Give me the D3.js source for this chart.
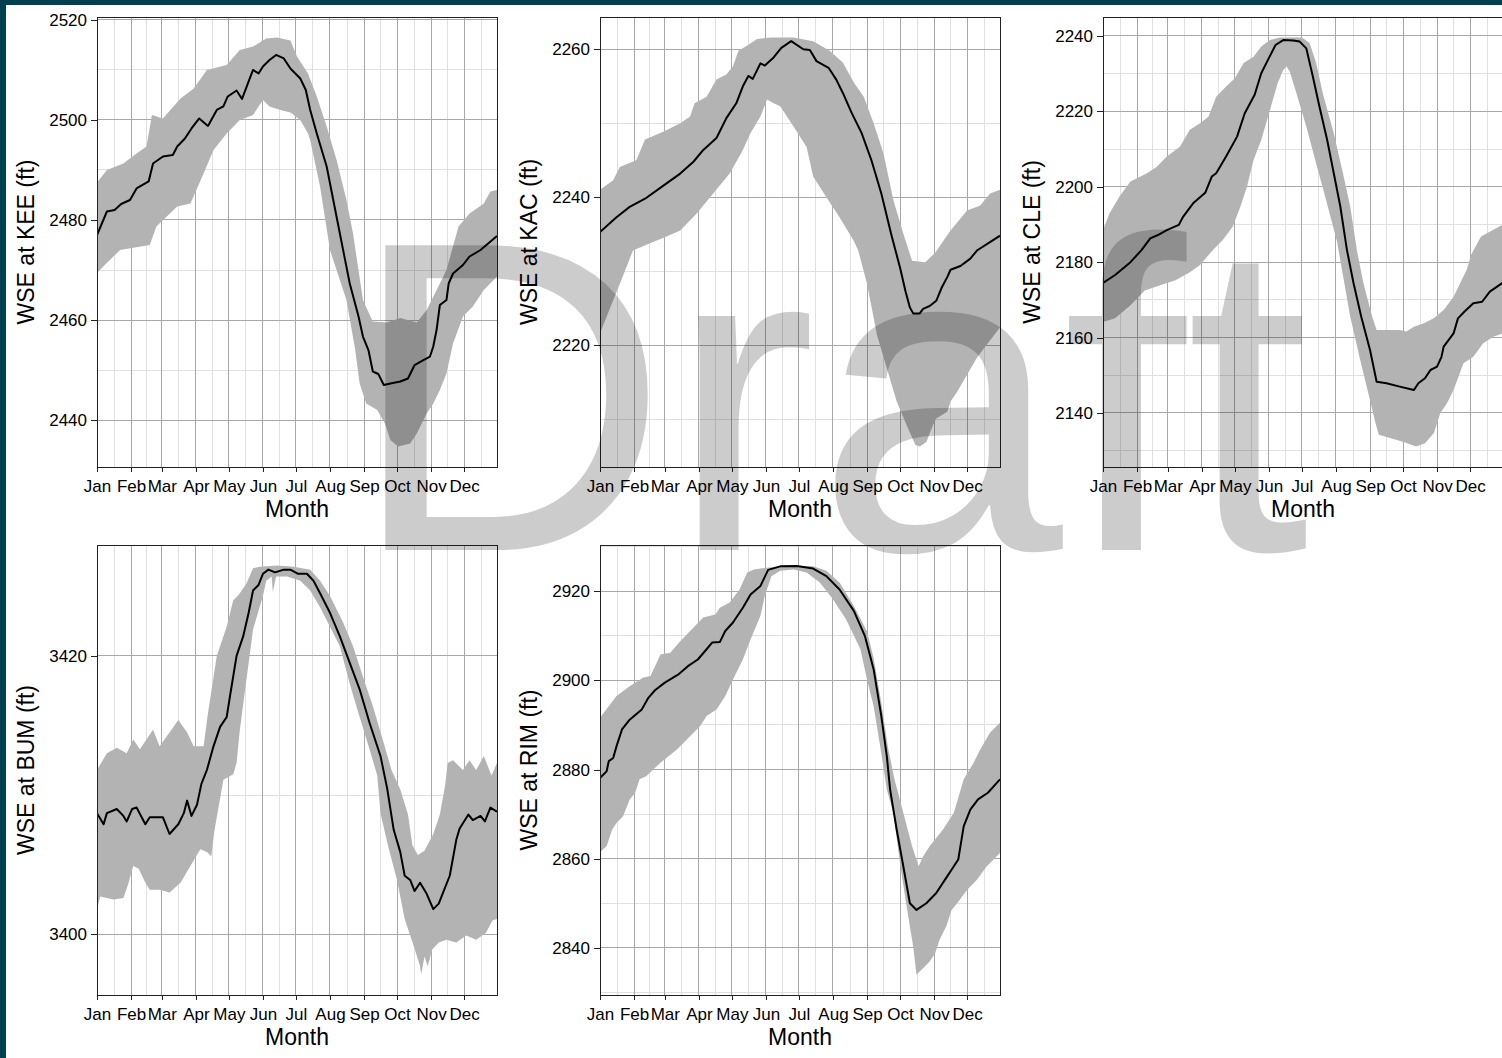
<!DOCTYPE html>
<html><head><meta charset="utf-8">
<script src="https://cdn.jsdelivr.net/npm/d3@7"></script>
<style>
html,body{margin:0;padding:0;background:#fff;overflow:hidden}
svg{display:block}
text{font-family:"Liberation Sans",Arial,sans-serif}
</style></head><body>
<svg id="chart" width="1502" height="1058"></svg>
<script>
// ---------------- data (day of year, feet) ----------------
const monthLabels = ["Jan","Feb","Mar","Apr","May","Jun","Jul","Aug","Sep","Oct","Nov","Dec"];
const stationNames = ["KEE","KAC","CLE","BUM","RIM"];

const keeTicks = [2440,2460,2480,2500,2520];
const keeLine = [[0,2477],[9,2481.7],[16,2482],[22,2483.2],[30,2484],[36,2486.3],[47,2487.7],[51,2491.3],[60,2492.7],[69,2493],[73,2494.7],[80,2496.3],[86,2498.3],[93,2500.3],[101,2498.8],[109,2502],[115,2502.7],[119,2504.7],[127,2505.9],[132,2504.2],[138,2507.7],[142,2510],[147,2509.3],[151,2510.7],[157,2512],[163,2513],[170,2512.3],[176,2510.3],[185,2508.3],[190,2506],[194,2502],[200,2497.3],[209,2490.7],[215,2484],[221,2477.3],[230,2467.3],[238,2460.7],[242,2456.7],[247,2454],[251,2449.7],[256,2449.2],[261,2447],[267,2447.3],[276,2447.7],[283,2448.3],[289,2451],[297,2452],[303,2452.7],[306,2454.7],[309,2458],[312,2463],[318,2464],[320,2467.3],[324,2469.3],[333,2471],[339,2472.7],[349,2474],[364,2476.8]];
const keeUpper = [[0,2487.5],[9,2490],[24,2491.3],[36,2493.3],[45,2494.7],[50,2501],[60,2500.3],[76,2504.3],[88,2506.3],[100,2510],[118,2511],[130,2514],[142,2514.7],[154,2516.3],[164,2516.5],[176,2515.9],[182,2512.7],[192,2509.3],[200,2504.7],[209,2498.7],[218,2492],[227,2484],[233,2477.3],[242,2464],[251,2459.7],[264,2459.5],[276,2460.4],[291,2459.5],[300,2462],[312,2467.3],[318,2470],[329,2478.7],[339,2481.3],[352,2483.3],[358,2485.7],[364,2486]];
const keeLower = [[0,2469.4],[7,2471],[21,2474],[48,2475],[54,2478.7],[73,2482.7],[85,2483.3],[97,2489.3],[106,2494],[118,2497.3],[130,2500],[142,2501],[151,2504],[157,2502.7],[167,2502],[176,2501.5],[185,2500],[192,2497.3],[194,2496],[203,2486.7],[212,2474],[227,2464],[235,2454],[239,2447.3],[245,2443.3],[255,2442],[262,2439.3],[267,2436],[274,2434.7],[285,2435.3],[291,2437.3],[300,2441.3],[306,2443.3],[312,2446],[318,2449.3],[324,2455.3],[333,2460.7],[342,2462.7],[352,2466],[364,2468.7]];

const kacTicks = [2220,2240,2260];
const kacLine = [[0,2235.3],[15,2237.3],[27,2238.7],[41,2239.8],[58,2241.6],[73,2243.2],[85,2244.8],[94,2246.4],[106,2248],[115,2250.7],[124,2252.7],[130,2255],[135,2256.4],[139,2256],[146,2258.1],[150,2257.8],[158,2258.9],[165,2260.2],[174,2261.1],[185,2260],[191,2259.9],[197,2258.4],[208,2257.5],[215,2255.9],[221,2254.1],[229,2251.4],[238,2248.7],[247,2245],[256,2240.5],[265,2235],[273,2230.5],[278,2227.3],[282,2225.1],[285,2224.3],[291,2224.3],[294,2224.9],[300,2225.3],[306,2226],[311,2227.8],[316,2229.2],[319,2230.2],[328,2230.7],[337,2231.7],[343,2232.8],[364,2234.8]];
const kacUpper = [[0,2241],[12,2242.3],[18,2244.1],[33,2245],[41,2247.8],[58,2248.9],[73,2250],[82,2250.9],[86,2252.7],[97,2253.6],[106,2255.9],[115,2256.6],[121,2257.7],[126,2259.8],[134,2260.5],[143,2261.4],[155,2261.6],[176,2261.6],[194,2261.1],[209,2259.8],[221,2258.2],[231,2255.5],[240,2253.6],[249,2250],[258,2245.9],[267,2239.6],[276,2235.1],[284,2231.4],[296,2231.2],[305,2232.5],[319,2235.5],[334,2238.2],[346,2238.9],[355,2240.5],[364,2241]];
const kacLower = [[0,2221.6],[11,2225.7],[20,2229],[30,2232.8],[46,2233.8],[59,2234.6],[73,2235.5],[88,2237.8],[103,2240.5],[118,2243.2],[130,2246.4],[137,2248.7],[146,2250.9],[152,2253.2],[158,2252.7],[164,2252.3],[176,2249.6],[188,2246.8],[194,2242.8],[206,2240],[218,2237.3],[231,2234.1],[235,2232.8],[243,2228.3],[252,2221.4],[261,2216.9],[270,2212.4],[279,2209.2],[287,2206.5],[291,2206.3],[297,2206.9],[303,2209.2],[306,2210.1],[316,2211],[319,2212.4],[325,2213.7],[334,2216],[343,2218.3],[352,2220.1],[364,2222.4]];

const cleTicks = [2140,2160,2180,2200,2220,2240];
const cleLine = [[0,2174.5],[11,2176.6],[25,2180],[35,2183.2],[43,2186.3],[50,2187.2],[58,2188.5],[69,2189.9],[73,2192.1],[82,2195.6],[93,2198.4],[99,2202.7],[103,2203.6],[112,2208],[122,2213.3],[129,2219.5],[138,2224.4],[144,2230.1],[150,2233.6],[157,2237.6],[164,2238.9],[173,2238.8],[179,2238.5],[185,2236.7],[191,2229.2],[197,2221.2],[204,2212.4],[210,2203.6],[216,2194.7],[222,2183.2],[228,2174.4],[235,2165.5],[243,2156.7],[249,2148.3],[258,2147.9],[270,2147],[283,2146.1],[287,2147.9],[293,2149.2],[298,2151.4],[304,2152.3],[308,2154.9],[310,2157.6],[319,2161.1],[323,2165.1],[329,2166.9],[337,2169.1],[345,2169.5],[352,2172.2],[364,2174.6]];
const cleUpper = [[0,2188.5],[6,2193],[15,2197.4],[25,2201.4],[40,2203.6],[49,2205.3],[58,2208],[70,2210.6],[79,2215.1],[88,2216.8],[96,2218.6],[103,2223.9],[112,2226.6],[120,2228.8],[128,2232.8],[137,2234.5],[144,2237.2],[152,2238.9],[161,2239.6],[181,2239.6],[188,2238.1],[194,2232.8],[200,2224.8],[210,2214.2],[219,2202.7],[225,2194.7],[231,2183.2],[237,2174.4],[245,2165.5],[249,2162],[270,2162],[276,2161.6],[283,2162.9],[292,2163.8],[301,2165.1],[310,2167.3],[319,2170.8],[325,2174.4],[331,2178],[335,2182],[344,2186.8],[364,2190]];
const cleLower = [[0,2164.1],[11,2165.1],[25,2168.6],[38,2172.5],[52,2173.9],[66,2175.2],[79,2177.3],[88,2179.2],[100,2183.2],[109,2185.9],[118,2189.4],[125,2194.7],[131,2200],[137,2207.1],[144,2212.4],[152,2220.4],[159,2227.5],[164,2231],[167,2231.9],[170,2230.5],[176,2224.8],[185,2216],[194,2206.2],[203,2196.5],[213,2185.4],[225,2165.5],[234,2154.1],[243,2143.4],[248,2137.3],[251,2134.2],[262,2133.3],[273,2132.4],[285,2131.1],[293,2132],[301,2134.6],[307,2140],[313,2142.6],[319,2146.1],[328,2153.2],[337,2154.9],[346,2158.5],[355,2160.2],[364,2161.1]];

const bumTicks = [3400,3420];
const bumLine = [[0,3408.7],[6,3407.9],[9,3408.7],[18,3409],[24,3408.5],[27,3408.1],[32,3409],[36,3409.1],[44,3407.9],[48,3408.4],[60,3408.4],[66,3407.2],[74,3407.9],[79,3408.7],[82,3409.6],[86,3408.5],[91,3409.3],[95,3410.8],[100,3411.8],[106,3413.5],[112,3414.9],[118,3415.6],[121,3417.1],[127,3420],[133,3421.4],[138,3423.1],[142,3424.7],[147,3425.1],[151,3425.9],[156,3426.2],[162,3426],[170,3426.2],[176,3426.2],[183,3425.9],[191,3425.9],[197,3425.4],[203,3424.5],[212,3423.1],[221,3421.4],[230,3419.5],[239,3417.6],[248,3415.2],[258,3412.8],[264,3410.5],[270,3407.5],[276,3405.9],[280,3404.2],[285,3403.9],[289,3403.1],[294,3403.7],[300,3402.9],[306,3401.8],[311,3402.2],[315,3403],[321,3404.2],[327,3406.8],[330,3407.6],[338,3408.6],[342,3408.2],[349,3408.5],[353,3408.1],[358,3409.1],[364,3408.8]];
const bumUpper = [[0,3411.8],[9,3413],[18,3413.4],[27,3413],[33,3414],[39,3413.3],[51,3414.7],[57,3413.5],[66,3414.5],[74,3415.4],[82,3414.5],[88,3413.5],[97,3413.5],[101,3415.9],[109,3420],[118,3422.1],[124,3424],[129,3424.4],[136,3425.2],[142,3426.3],[148,3426.4],[164,3426.5],[179,3426.4],[194,3426.2],[203,3425.4],[212,3424.3],[224,3422.4],[233,3420.7],[242,3418.5],[251,3416.4],[260,3414],[268,3411.8],[276,3410.4],[283,3408.6],[287,3406.4],[292,3405.7],[298,3406],[306,3407.2],[312,3408.6],[317,3410.8],[319,3412.3],[324,3412.5],[333,3411.8],[339,3412.5],[345,3411.8],[352,3412.8],[359,3411.4],[364,3412.3]];
const bumLower = [[0,3401.8],[3,3402.7],[9,3402.6],[15,3402.5],[24,3402.6],[28,3403.5],[33,3404.9],[38,3404.7],[44,3403.7],[48,3403.2],[57,3403.2],[66,3403],[76,3403.7],[85,3404.9],[94,3406.1],[100,3405.9],[104,3405.6],[107,3407.5],[115,3411.1],[124,3411.5],[127,3412.3],[130,3414.7],[136,3418.3],[142,3421.9],[151,3424.3],[154,3425.4],[159,3425.7],[160,3424.6],[163,3425.7],[173,3425.7],[185,3425.4],[194,3424.7],[203,3423.5],[212,3422.1],[221,3420.7],[230,3418],[239,3415.6],[248,3413.3],[255,3411.4],[258,3408.7],[265,3406.3],[273,3403.9],[280,3401.1],[288,3399.2],[294,3397.7],[295,3397.1],[298,3398.4],[301,3397.7],[305,3398.9],[311,3399.4],[318,3399.6],[327,3399.4],[336,3399.9],[345,3399.6],[354,3400.1],[360,3401],[364,3401.1]];

const rimTicks = [2840,2860,2880,2900,2920];
const rimLine = [[0,2878.1],[6,2879.6],[8,2881.9],[12,2882.6],[15,2885.2],[20,2889],[27,2891.2],[38,2893.5],[44,2896.1],[50,2897.8],[59,2899.5],[71,2901.3],[80,2903.2],[89,2904.7],[97,2907],[102,2908.5],[109,2908.6],[114,2911.1],[121,2913],[130,2916.3],[137,2919.3],[146,2921.2],[153,2924.8],[164,2925.6],[179,2925.7],[194,2925.1],[206,2923.4],[218,2920.4],[231,2915.6],[241,2910],[249,2902.5],[256,2892],[261,2883],[264,2875.5],[270,2866.5],[276,2858.3],[282,2850],[288,2848.5],[297,2850],[306,2852.3],[314,2855.3],[322,2858.3],[326,2859.8],[331,2867.3],[337,2871],[344,2873.3],[353,2874.8],[364,2877.8]];
const rimUpper = [[0,2891.6],[15,2896.5],[27,2898.7],[39,2900.6],[46,2901],[55,2905.8],[64,2906.2],[73,2908.8],[82,2911.1],[94,2914.1],[105,2914.8],[109,2916.3],[118,2917.5],[127,2920.4],[134,2924.2],[140,2924.9],[152,2925.3],[170,2925.8],[194,2925.6],[206,2924.6],[218,2922],[231,2916.7],[243,2911],[249,2905],[256,2895],[262,2885],[268,2877.8],[276,2870.3],[284,2862.8],[288,2859.8],[290,2858.3],[294,2860.5],[300,2862.8],[312,2866.5],[322,2870.3],[331,2877.8],[340,2881.5],[346,2884.5],[355,2888.3],[364,2890.5]];
const rimLower = [[0,2861.5],[6,2862.8],[11,2866.5],[15,2868],[21,2869.5],[27,2873.3],[32,2874.8],[36,2877.8],[42,2878.5],[55,2881.5],[70,2884.5],[82,2887.5],[91,2889.7],[97,2892],[106,2893.5],[114,2896.5],[121,2900.2],[130,2904.7],[137,2909.2],[146,2914.5],[150,2919],[156,2923.4],[164,2924.6],[176,2924.9],[188,2924.2],[200,2922],[212,2918.2],[224,2913.7],[237,2907],[243,2900.2],[249,2894.2],[255,2885.2],[261,2875.5],[267,2870.3],[273,2859],[279,2849.3],[285,2840.3],[288,2834],[294,2835.4],[300,2836.9],[305,2838.8],[309,2841.8],[315,2844.8],[320,2848.5],[325,2850],[334,2853],[343,2855.3],[352,2858.3],[364,2861.3]];

// ---------------- layout ----------------
const svg = d3.select("#chart");
const PW = 400, PH = 450;
const colX = [97, 600, 1103], rowY = [17, 545];
const panels = [
  {name: stationNames[0], line: keeLine, upper: keeUpper, lower: keeLower, ticks: keeTicks, c: 0, r: 0},
  {name: stationNames[1], line: kacLine, upper: kacUpper, lower: kacLower, ticks: kacTicks, c: 1, r: 0},
  {name: stationNames[2], line: cleLine, upper: cleUpper, lower: cleLower, ticks: cleTicks, c: 2, r: 0},
  {name: stationNames[3], line: bumLine, upper: bumUpper, lower: bumLower, ticks: bumTicks, c: 0, r: 1},
  {name: stationNames[4], line: rimLine, upper: rimUpper, lower: rimLower, ticks: rimTicks, c: 1, r: 1}
];

const t0 = Date.UTC(2021, 0, 1);
const dayDate = d => new Date(t0 + d * 864e5);
const x = d3.scaleUtc().domain([dayDate(0), dayDate(364)]).range([0, PW]);
const monthTicks = d3.utcMonth.range(dayDate(0), dayDate(365));
const monthBounds = monthTicks.concat([dayDate(365)]);
const minorX = d3.range(12).map(i => new Date((+monthBounds[i] + +monthBounds[i + 1]) / 2));

const MAJ = "#a8a8a8", MIN = "#e0e0e0";

panels.forEach((p, i) => {
  const x0 = colX[p.c], y0 = rowY[p.r];
  const vals = p.line.concat(p.upper, p.lower).map(d => d[1]);
  const lo = d3.min(vals), hi = d3.max(vals), pad = (hi - lo) * 0.05;
  const y = d3.scaleLinear().domain([lo - pad, hi + pad]).range([PH, 0]);
  const step = p.ticks[1] - p.ticks[0];
  const minorY = [p.ticks[0] - step / 2].concat(p.ticks.map(t => t + step / 2))
    .filter(v => v > lo - pad && v < hi + pad);

  const g = svg.append("g").attr("transform", `translate(${x0},${y0})`);
  const clipId = "clip" + i;
  g.append("clipPath").attr("id", clipId).append("rect").attr("width", PW).attr("height", PH);
  g.append("rect").attr("width", PW).attr("height", PH).attr("fill", "#fff");

  const grid = g.append("g").attr("shape-rendering", "crispEdges").attr("clip-path", `url(#${clipId})`);
  grid.selectAll(".mnx").data(minorX).join("line")
    .attr("x1", d => x(d)).attr("x2", d => x(d)).attr("y1", 0).attr("y2", PH)
    .attr("stroke", MIN).attr("stroke-width", 1);
  grid.selectAll(".mny").data(minorY).join("line")
    .attr("x1", 0).attr("x2", PW).attr("y1", d => y(d)).attr("y2", d => y(d))
    .attr("stroke", MIN).attr("stroke-width", 1);
  grid.selectAll(".mjx").data(monthTicks).join("line")
    .attr("x1", d => x(d)).attr("x2", d => x(d)).attr("y1", 0).attr("y2", PH)
    .attr("stroke", MAJ).attr("stroke-width", 1);
  grid.selectAll(".mjy").data(p.ticks).join("line")
    .attr("x1", 0).attr("x2", PW).attr("y1", d => y(d)).attr("y2", d => y(d))
    .attr("stroke", MAJ).attr("stroke-width", 1);

  const lineGen = d3.line().x(d => x(dayDate(d[0]))).y(d => y(d[1]));
  const ribbonPts = p.upper.concat(p.lower.slice().reverse());
  const data = g.append("g").attr("clip-path", `url(#${clipId})`);
  data.append("path").attr("d", lineGen(ribbonPts) + "Z").attr("fill", "#b3b3b3");
  data.append("path").attr("d", lineGen(p.line)).attr("fill", "none")
    .attr("stroke", "#000").attr("stroke-width", 2).attr("stroke-linejoin", "round");

  g.append("rect").attr("width", PW).attr("height", PH).attr("fill", "none")
    .attr("stroke", "#222").attr("stroke-width", 1).attr("shape-rendering", "crispEdges");

  const ay = g.append("g").call(d3.axisLeft(y).tickValues(p.ticks).tickSize(6).tickPadding(4).tickFormat(d3.format("d")));
  const ax = g.append("g").attr("transform", `translate(0,${PH})`)
    .call(d3.axisBottom(x).tickValues(monthTicks).tickSize(5).tickPadding(8)
      .tickFormat((d, k) => monthLabels[k]));
  [ay, ax].forEach(a => {
    a.select(".domain").remove();
    a.attr("font-family", null).attr("font-size", null);
    a.selectAll("line").attr("stroke", "#222").attr("shape-rendering", "crispEdges");
    a.selectAll("text").attr("fill", "#000").style("font-size", "17px");
  });

  g.append("text").attr("x", PW / 2).attr("y", PH + 50).attr("text-anchor", "middle")
    .style("font-size", "23px").attr("fill", "#000").text("Month");
  g.append("text").attr("transform", `translate(-63,${PH / 2}) rotate(-90)`)
    .attr("text-anchor", "middle").style("font-size", "23px").attr("fill", "#000")
    .text(`WSE at ${p.name} (ft)`);
});

// watermark
svg.append("text").attr("x", 349).attr("y", 550).style("font-size", "443px")
  .attr("fill", "#000").attr("fill-opacity", 0.2).text("Draft");

// page frame
svg.append("rect").attr("x", 0).attr("y", 0).attr("width", 1502).attr("height", 5).attr("fill", "#02404f");
svg.append("rect").attr("x", 0).attr("y", 0).attr("width", 6).attr("height", 1058).attr("fill", "#02404f");
</script>
</body></html>
